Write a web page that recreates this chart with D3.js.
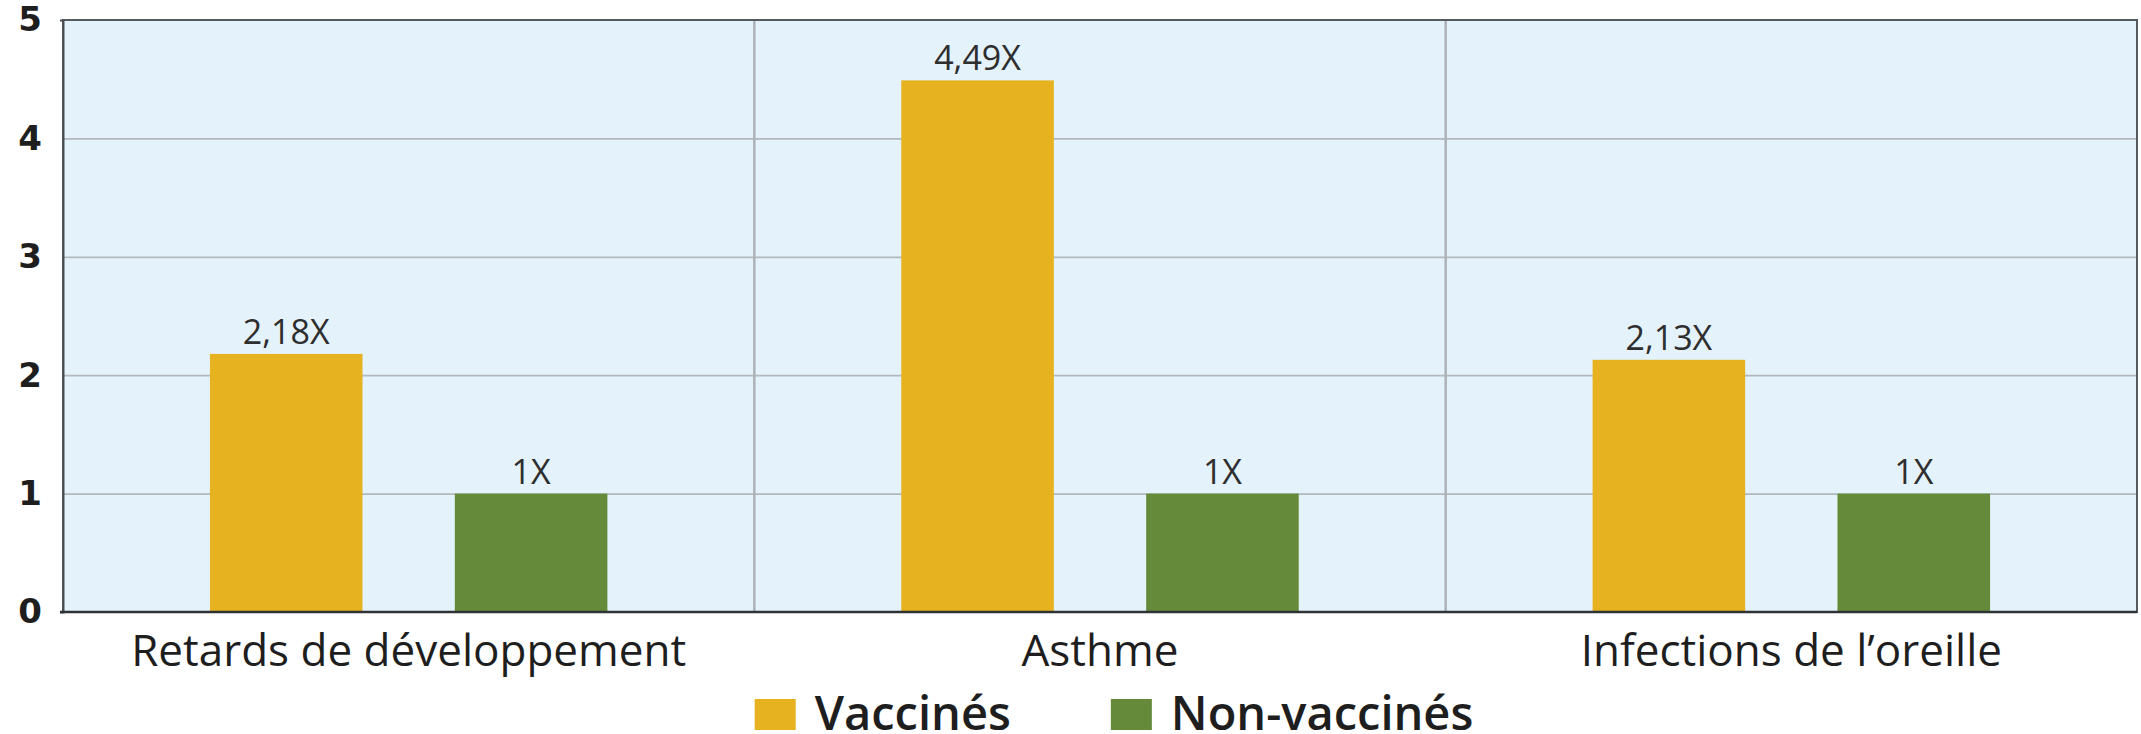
<!DOCTYPE html>
<html>
<head>
<meta charset="utf-8">
<script src="https://cdn.jsdelivr.net/npm/d3@7"></script>
<style>
  body { margin: 0; background: #fff; }
  svg { display: block; }
</style>
</head>
<body>
<svg id="chart" width="2141" height="734"></svg>
<script>
// data
var categories = ["Retards de développement", "Asthme", "Infections de l\u2019oreille"];
var seriesNames = ["Vaccinés", "Non-vaccinés"];
var vaccines = [2.18, 4.49, 2.13];
var nonVaccines = [1, 1, 1];
var yTicks = [0, 1, 2, 3, 4, 5];
var seriesColors = ["#e6b21f", "#658a3a"];

var svg = d3.select("#chart"),
    pLeft = 63, pRight = 2137, pTop = 20, pBottom = 612;

var rows = categories.map(function (c, i) {
    return { cat: c, values: [vaccines[i], nonVaccines[i]] };
});

var x0 = d3.scaleBand().domain(categories).range([pLeft, pRight]);
var x1 = d3.scaleBand().domain(seriesNames).range([0, x0.bandwidth()])
    .paddingInner(0.377).paddingOuter(0.6);
var y = d3.scaleLinear().domain([0, 5]).range([pBottom, pTop]);

var fr = d3.formatLocale({ decimal: ",", thousands: " ", grouping: [3], currency: ["", ""] });
var fmt = fr.format("~g");

// plot background
svg.append("rect")
    .attr("x", pLeft).attr("y", pTop)
    .attr("width", pRight - pLeft).attr("height", pBottom - pTop)
    .attr("fill", "#e4f2fc");

// horizontal grid
svg.append("g")
    .attr("transform", "translate(" + pLeft + ",0)")
    .call(d3.axisLeft(y).tickValues([1, 2, 3, 4]).tickSize(-(pRight - pLeft)).tickFormat(""))
    .call(function (g) {
        g.select(".domain").remove();
        g.selectAll("line").attr("stroke", "#b2b7bb").attr("stroke-width", 1.8);
    });

// vertical separators between categories
svg.append("g").selectAll("line")
    .data(categories.slice(1))
    .join("line")
    .attr("x1", function (d) { return x0(d); })
    .attr("x2", function (d) { return x0(d); })
    .attr("y1", pTop).attr("y2", pBottom)
    .attr("stroke", "#aeb2b5").attr("stroke-width", 2.5);

// bars
var groups = svg.append("g").selectAll("g")
    .data(rows)
    .join("g")
    .attr("transform", function (d) { return "translate(" + x0(d.cat) + ",0)"; });

groups.selectAll("rect")
    .data(function (d) { return d.values.map(function (v, i) { return { key: seriesNames[i], v: v, i: i }; }); })
    .join("rect")
    .attr("x", function (d) { return x1(d.key); })
    .attr("width", x1.bandwidth())
    .attr("y", function (d) { return y(d.v); })
    .attr("height", function (d) { return y(0) - y(d.v); })
    .attr("fill", function (d) { return seriesColors[d.i]; });

groups.selectAll("text")
    .data(function (d) { return d.values.map(function (v, i) { return { key: seriesNames[i], v: v }; }); })
    .join("text")
    .attr("x", function (d) { return x1(d.key) + x1.bandwidth() / 2; })
    .attr("y", function (d) { return y(d.v) - 10; })
    .attr("text-anchor", "middle")
    .attr("font-family", "Open Sans")
    .attr("font-size", 34)
    .attr("fill", "#2e2e2e")
    .text(function (d) { return fmt(d.v) + "X"; });

// frame
svg.append("rect")
    .attr("x", pLeft).attr("y", pTop)
    .attr("width", pRight - pLeft).attr("height", pBottom - pTop)
    .attr("fill", "none").attr("stroke", "#555a5e").attr("stroke-width", 2);

// y axis
svg.append("g")
    .attr("transform", "translate(" + pLeft + ",0)")
    .call(d3.axisLeft(y).tickValues(yTicks).tickSize(0).tickSizeOuter(3).tickPadding(21).tickFormat(d3.format("d")))
    .call(function (g) {
        g.select(".domain").attr("stroke", "#4a4e52").attr("stroke-width", 2);
        g.selectAll("text")
            .attr("font-family", "DejaVu Sans")
            .attr("font-weight", "bold")
            .attr("font-size", 34)
            .attr("fill", "#1e1e1e");
    });

// x axis
svg.append("g")
    .attr("transform", "translate(0," + pBottom + ")")
    .call(d3.axisBottom(x0).tickSize(0))
    .call(function (g) {
        g.select(".domain").attr("stroke", "#2f3336").attr("stroke-width", 2.5)
            .attr("d", "M" + (pLeft - 3) + ",0H" + pRight);
        g.selectAll("text")
            .attr("y", 54).attr("dy", 0)
            .attr("font-family", "Open Sans")
            .attr("font-size", 44)
            .attr("fill", "#1e1e1e");
    });

// legend, centred under the plot
var legendGap = 100;
var legend = svg.append("g");
var items = legend.selectAll("g")
    .data(seriesNames)
    .join("g");
items.append("rect")
    .attr("width", 41).attr("height", 31)
    .attr("fill", function (d, i) { return seriesColors[i]; });
items.append("text")
    .attr("x", 60).attr("y", 31)
    .attr("font-family", "Open Sans")
    .attr("font-weight", 600)
    .attr("font-size", 47)
    .attr("fill", "#1e1e1e")
    .text(function (d) { return d; });
var cursor = 0;
items.each(function () {
    var w = d3.select(this).select("text").node().getComputedTextLength();
    d3.select(this).attr("transform", "translate(" + cursor + ",0)");
    cursor += 60 + w + legendGap;
});
var legendW = cursor - legendGap;
legend.attr("transform", "translate(" + ((pLeft + pRight) / 2 + 14 - legendW / 2) + ",699)");
</script>
</body>
</html>
